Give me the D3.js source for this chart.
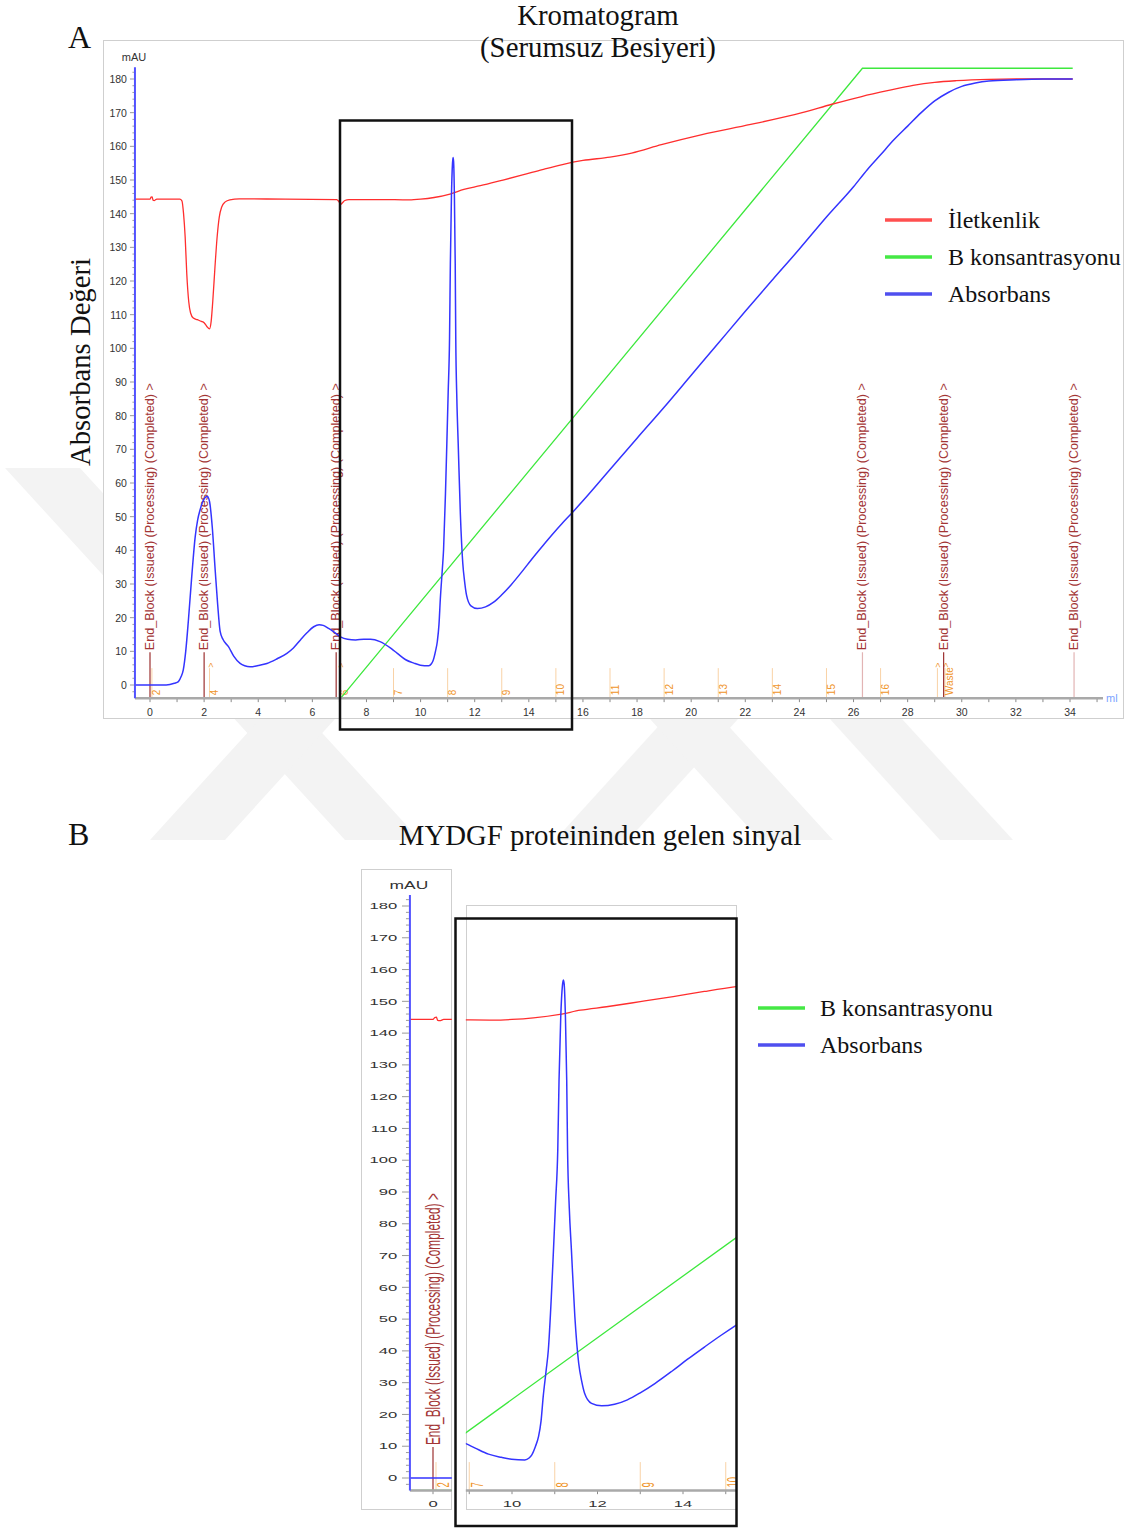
<!DOCTYPE html>
<html>
<head>
<meta charset="utf-8">
<script src="https://cdn.jsdelivr.net/npm/d3@7"></script>
<style>
  html, body { margin: 0; padding: 0; background: #fff; }
  svg { display: block; }
</style>
</head>
<body>
<svg id="fig" width="1131" height="1528"></svg>
<script>
// ---------------- data (elution volume in ml) ----------------
// UV absorbance, mAU
const absorbans = [
  [-0.56,0],[0.0,0],[0.6,0],[0.9,0.5],[1.05,1],[1.15,2.5],[1.23,4.5],[1.32,10],[1.42,19.3],
  [1.55,33],[1.67,44],[1.76,49],[1.85,52],[1.95,54.5],[2.05,55.8],[2.12,56],[2.2,54.5],
  [2.3,47],[2.41,34],[2.5,24],[2.59,16],[2.7,13.5],[2.9,11.4],[3.1,8.5],[3.33,6.4],[3.5,5.7],
  [3.7,5.4],[4.0,5.8],[4.32,6.4],[4.7,7.8],[5.06,9.4],[5.3,11],[5.56,13.4],[5.8,15.5],
  [6.05,17.3],[6.25,17.9],[6.4,17.7],[6.6,16.8],[6.79,15.8],[7.04,14.3],[7.3,13.6],[7.6,13.4],
  [7.9,13.6],[8.15,13.6],[8.5,12.9],[8.92,10.8],[9.14,9.4],[9.45,7.5],[9.75,6.5],[9.99,5.9],
  [10.3,5.7],[10.4,6.3],[10.46,7.2],[10.55,10],[10.62,13],[10.68,18],[10.73,25.6],[10.8,34],
  [10.85,40.3],[10.92,57],[10.97,71.7],[11.02,87],[11.07,103],[11.1,125],[11.14,145],
  [11.18,155],[11.2,156.7],[11.22,155.5],[11.25,145],[11.28,125],[11.3,103],[11.34,85],
  [11.39,71.7],[11.47,50.8],[11.56,36.1],[11.63,30.5],[11.7,26.6],[11.86,23.5],[12.1,22.7],
  [12.4,23.2],[12.7,24.6],[13.0,26.8],[13.35,29.8],[13.74,33.6],[14.1,37.3],[14.51,41.3],
  [14.9,45],[15.22,47.9],[15.56,50.8],[16,54.7],[17,64],[18,73.3],[19,82.5],[20,92],
  [21,101.5],[22,111],[23,120.3],[24,129.5],[25,139],[26,148],[26.5,153],[27,157.5],
  [27.5,162],[28,166],[28.5,170],[29,173.5],[29.5,176],[30,177.8],[30.5,178.8],[31,179.4],
  [32,179.8],[33,180],[34.1,180]
];
// conductivity trace, drawn on the mAU axis
const iletkenlik = [
  [-0.56,144.3],[0.0,144.3],[0.04,144.9],[0.08,145.0],[0.11,144.0],[0.16,143.9],[0.25,144.3],
  [1.1,144.3],[1.18,143.8],[1.24,140],[1.3,133],[1.36,122],[1.43,114],[1.5,110.5],[1.6,109],
  [1.75,108.5],[1.9,108],[2.0,107.6],[2.1,106.5],[2.2,105.8],[2.26,108],[2.32,114],[2.4,124],
  [2.48,133],[2.56,139],[2.65,142],[2.78,143.5],[2.95,144.1],[3.3,144.4],[5,144.3],[6.9,144.2],
  [6.98,143.6],[7.05,142.8],[7.12,143.3],[7.2,143.9],[7.35,144.2],[8.5,144.2],[9.57,144.1],
  [10.0,144.3],[10.5,144.8],[11.12,145.9],[11.6,147.2],[12.21,148.3],[13.0,149.9],[13.77,151.5],
  [14.5,153.1],[15.24,154.6],[16,155.8],[17,156.8],[17.8,158],[18.9,160.5],[20.4,163.5],
  [22.2,166.5],[24.1,170],[25.2,172.5],[26.3,174.8],[27.3,176.6],[28.2,178.1],[29,179],
  [29.8,179.5],[31,179.9],[32,180],[34.1,180]
];
// buffer B gradient, %
const bKonsantrasyonu = [[-0.56,0],[7.05,0],[26.33,100],[34.1,100]];

// run log events
const endBlockVol   = [0, 2.0, 6.88, 26.33, 29.33, 34.15];
const endBlockDark  = [true, true, true, false, true, false];
const endBlockText  = "End_Block (Issued) (Processing) (Completed) >";

// fraction marks
const fractionVol   = [0.07, 2.2, 7.02, 9.0, 11.0, 13.0, 15.0, 17.0, 19.0, 21.0, 23.0, 25.0, 27.0, 29.1, 29.38];
const fractionText  = ["2", "4", "6", "7", "8", "9", "10", "11", "12", "13", "14", "15", "16", "", "Waste"];
const fractionCaret = [false, true, true, false, false, false, false, false, false, false, false, false, false, true, true];

// axis ticks
const yTickLabels = d3.range(0, 181, 10);
const yTickMinor  = d3.range(-2, 184, 2);

// titles and legends
const titleA   = ["Kromatogram", "(Serumsuz Besiyeri)"];
const yTitleA  = "Absorbans Değeri";
const titleB   = "MYDGF proteininden gelen sinyal";
const legendA  = [["İletkenlik", "#ff4f4f"], ["B konsantrasyonu", "#45e845"], ["Absorbans", "#4f4fef"]];
const legendB  = [["B konsantrasyonu", "#45e845"], ["Absorbans", "#4f4fef"]];

// ---------------- drawing ----------------
const SANS  = "'Liberation Sans', Arial, sans-serif";
const SERIF = "'Liberation Serif', 'Times New Roman', serif";
const Y_BASE = -3.9, Y_TOP = 183.5, Y_FULL = 183.2;

const svg  = d3.select("#fig");
const defs = svg.append("defs");
svg.append("rect").attr("width", 1131).attr("height", 1528).attr("fill", "#fff");

// faint background emblem
const emblem = [
  [[5,468],[80,468],[420,840],[345,840]],
  [[150,840],[225,840],[335,719],[260,719]],
  [[555,840],[628,840],[738,719],[665,719]],
  [[650,719],[722,719],[833,840],[760,840]],
  [[830,719],[902,719],[1013,840],[940,840]]
];
svg.append("g").selectAll("polygon").data(emblem).join("polygon")
  .attr("points", d => d.map(p => p.join(",")).join(" "))
  .attr("fill", "#f3f3f3");

function drawView(o) {
  const g = svg.append("g");
  const left = o.x(o.lo), right = o.x(o.hi);
  const base = o.y(Y_BASE);
  const pctB = d3.scaleLinear().domain([0, 100]).range([o.y(Y_BASE), o.y(Y_FULL)]);
  const tf = (x, y, rot) => `translate(${x},${y}) scale(${o.sx},${o.sy})` + (rot ? ` rotate(${rot})` : "");

  const id = "clip-" + o.name;
  defs.append("clipPath").attr("id", id).append("rect")
    .attr("x", left).attr("y", o.clipTop)
    .attr("width", right - left).attr("height", base - o.clipTop + 3);
  const plot = g.append("g").attr("clip-path", `url(#${id})`);

  // fraction marks
  const fr = fractionVol.map((v, i) => ({ v, t: fractionText[i], c: fractionCaret[i] }))
    .filter(d => d.v > o.lo - 1 && d.v < o.hi + 1);
  plot.selectAll("line.fr").data(fr).join("line").attr("class", "fr")
    .attr("x1", d => o.x(d.v)).attr("x2", d => o.x(d.v))
    .attr("y1", base).attr("y2", base - 30 * o.sy)
    .attr("stroke", "#f9d2a6").attr("stroke-width", 1);
  plot.selectAll("text.frl").data(fr.filter(d => d.t)).join("text").attr("class", "frl")
    .attr("transform", d => tf(o.x(d.v) + 8.5 * o.sx, base - 3 * o.sy, -90))
    .attr("font-family", SANS).attr("font-size", 10).attr("fill", "#f0952a")
    .text(d => d.t);
  plot.selectAll("text.frc").data(fr.filter(d => d.c)).join("text").attr("class", "frc")
    .attr("transform", d => tf(o.x(d.v) + 1, base - 33 * o.sy, -90))
    .attr("text-anchor", "middle").attr("dominant-baseline", "central")
    .attr("font-family", SANS).attr("font-size", 9).attr("fill", "#f0952a")
    .text(">");

  // run log events
  const eb = endBlockVol.map((v, i) => ({ v, dark: endBlockDark[i] }))
    .filter(d => d.v > o.lo - 1 && d.v < o.hi + 1);
  plot.selectAll("line.eb").data(eb).join("line").attr("class", "eb")
    .attr("x1", d => o.x(d.v)).attr("x2", d => o.x(d.v))
    .attr("y1", base).attr("y2", base - 46 * o.sy)
    .attr("stroke", d => d.dark ? "#9c3030" : "#e2b4b4").attr("stroke-width", 1.2);
  plot.selectAll("text.eb").data(eb).join("text").attr("class", "eb")
    .attr("transform", d => tf(o.x(d.v), base - 48 * o.sy, -90))
    .attr("dominant-baseline", "central")
    .attr("font-family", SANS).attr("font-size", 12.6).attr("fill", "#a33535")
    .text(endBlockText);

  // x axis
  g.append("line").attr("x1", left).attr("x2", o.axisEnd).attr("y1", base).attr("y2", base)
    .attr("stroke", "#a9a9a9").attr("stroke-width", 2.5);
  const xt = d3.range(Math.ceil(o.lo), Math.floor(o.hi) + 1, 1);
  g.selectAll("line.xt").data(xt).join("line").attr("class", "xt")
    .attr("x1", d => o.x(d)).attr("x2", d => o.x(d))
    .attr("y1", base + 1).attr("y2", base + 4 * o.sy)
    .attr("stroke", "#8a8a8a");
  g.selectAll("text.xl").data(xt.filter(d => d % 2 === 0)).join("text").attr("class", "xl")
    .attr("transform", d => tf(o.x(d), base + 18 * o.sy))
    .attr("text-anchor", "middle")
    .attr("font-family", SANS).attr("font-size", 10.5).attr("fill", "#333")
    .text(d => d);

  // y axis
  if (o.yAxis) {
    g.append("line").attr("x1", left).attr("x2", left)
      .attr("y1", o.y(Y_TOP)).attr("y2", base)
      .attr("stroke", "#5252ff").attr("stroke-width", 2);
    g.selectAll("line.yt").data(yTickMinor).join("line").attr("class", "yt")
      .attr("x1", left - 1).attr("x2", d => left - (d % 10 === 0 ? 5 : 2.5) * o.sx)
      .attr("y1", d => o.y(d)).attr("y2", d => o.y(d))
      .attr("stroke", "#9a9a9a");
    g.selectAll("text.yl").data(yTickLabels).join("text").attr("class", "yl")
      .attr("transform", d => tf(left - 8 * o.sx, o.y(d)))
      .attr("text-anchor", "end").attr("dominant-baseline", "central")
      .attr("font-family", SANS).attr("font-size", 10.5).attr("fill", "#333")
      .text(d => d);
    g.append("text").attr("transform", tf(left - 1, o.y(Y_TOP) - 6 * o.sy))
      .attr("text-anchor", "middle")
      .attr("font-family", SANS).attr("font-size", 11).attr("fill", "#333")
      .text("mAU");
  }
  if (o.unit) {
    g.append("text").attr("x", o.axisEnd + 3).attr("y", base)
      .attr("dominant-baseline", "central")
      .attr("font-family", SANS).attr("font-size", 11).attr("fill", "#7ba2ff")
      .text("ml");
  }

  // traces
  const lineXY = (ys, curve) => d3.line().x(d => o.x(d[0])).y(d => ys(d[1])).curve(curve);
  plot.append("path").datum(bKonsantrasyonu)
    .attr("d", lineXY(pctB, d3.curveLinear))
    .attr("fill", "none").attr("stroke", "#3ee83e").attr("stroke-width", 1.3);
  plot.append("path").datum(iletkenlik)
    .attr("d", lineXY(o.y, d3.curveMonotoneX))
    .attr("fill", "none").attr("stroke", "#ff2e2e").attr("stroke-width", 1.3);
  plot.append("path").datum(absorbans)
    .attr("d", lineXY(o.y, d3.curveMonotoneX))
    .attr("fill", "none").attr("stroke", "#3434ff").attr("stroke-width", 1.5);
}

// ---------- panel A ----------
svg.append("rect").attr("x", 103.5).attr("y", 40.5).attr("width", 1020).attr("height", 678)
  .attr("fill", "#fff").attr("stroke", "#cfcfcf");

const xA = d3.scaleLinear().domain([0, 34]).range([150, 1070]);
const yA = d3.scaleLinear().domain([0, 180]).range([685, 79]);
drawView({ name: "a", x: xA, y: yA, lo: -0.556, hi: 35.3, axisEnd: 1103, clipTop: 42,
           sx: 1, sy: 1, yAxis: true, unit: true });

svg.append("text").attr("x", 68).attr("y", 48)
  .attr("font-family", SERIF).attr("font-size", 32).attr("fill", "#111").text("A");
svg.selectAll("text.ta").data(titleA).join("text").attr("class", "ta")
  .attr("x", 598).attr("y", (d, i) => 25 + i * 32)
  .attr("text-anchor", "middle")
  .attr("font-family", SERIF).attr("font-size", 28.8).attr("fill", "#111")
  .text(d => d);
svg.append("text").attr("transform", "translate(90,362) rotate(-90)")
  .attr("text-anchor", "middle")
  .attr("font-family", SERIF).attr("font-size", 28.7).attr("fill", "#111")
  .text(yTitleA);

const legA = svg.append("g");
legA.selectAll("line").data(legendA).join("line")
  .attr("x1", 885).attr("x2", 932)
  .attr("y1", (d, i) => 220 + i * 37).attr("y2", (d, i) => 220 + i * 37)
  .attr("stroke", d => d[1]).attr("stroke-width", 3.5);
legA.selectAll("text").data(legendA).join("text")
  .attr("x", 948).attr("y", (d, i) => 228 + i * 37)
  .attr("font-family", SERIF).attr("font-size", 24).attr("fill", "#111")
  .text(d => d[0]);

svg.append("rect").attr("x", 340).attr("y", 120.5).attr("width", 232).attr("height", 609)
  .attr("fill", "none").attr("stroke", "#111").attr("stroke-width", 2.5);

// ---------- panel B ----------
svg.append("text").attr("x", 68).attr("y", 845)
  .attr("font-family", SERIF).attr("font-size", 32).attr("fill", "#111").text("B");
svg.append("text").attr("x", 600).attr("y", 845).attr("text-anchor", "middle")
  .attr("font-family", SERIF).attr("font-size", 28.8).attr("fill", "#111").text(titleB);

svg.append("rect").attr("x", 361.5).attr("y", 869.5).attr("width", 90).attr("height", 640)
  .attr("fill", "#fff").attr("stroke", "#cfcfcf");
svg.append("rect").attr("x", 466.5).attr("y", 905.5).attr("width", 270).attr("height", 604)
  .attr("fill", "#fff").attr("stroke", "#cfcfcf");

const sxB = 42.75 / 27, syB = 31.78 / 33.67;
const yB = d3.scaleLinear().domain([0, 180]).range([1478, 906]);
const xBleft  = d3.scaleLinear().domain([0, 1]).range([433, 475.75]);
const xBright = d3.scaleLinear().domain([10, 14]).range([512, 683]);
drawView({ name: "bl", x: xBleft, y: yB, lo: -0.54, hi: 0.44, axisEnd: xBleft(0.44), clipTop: 870,
           sx: sxB, sy: syB, yAxis: true, unit: false });
drawView({ name: "br", x: xBright, y: yB, lo: 8.92, hi: 15.24, axisEnd: xBright(15.24), clipTop: 906,
           sx: sxB, sy: syB, yAxis: false, unit: false });

const legB = svg.append("g");
legB.selectAll("line").data(legendB).join("line")
  .attr("x1", 758).attr("x2", 805)
  .attr("y1", (d, i) => 1008 + i * 37).attr("y2", (d, i) => 1008 + i * 37)
  .attr("stroke", d => d[1]).attr("stroke-width", 3.5);
legB.selectAll("text").data(legendB).join("text")
  .attr("x", 820).attr("y", (d, i) => 1016 + i * 37)
  .attr("font-family", SERIF).attr("font-size", 24).attr("fill", "#111")
  .text(d => d[0]);

svg.append("rect").attr("x", 455.5).attr("y", 918.5).attr("width", 281).attr("height", 607.5)
  .attr("fill", "none").attr("stroke", "#111").attr("stroke-width", 2.5);
</script>
</body>
</html>
